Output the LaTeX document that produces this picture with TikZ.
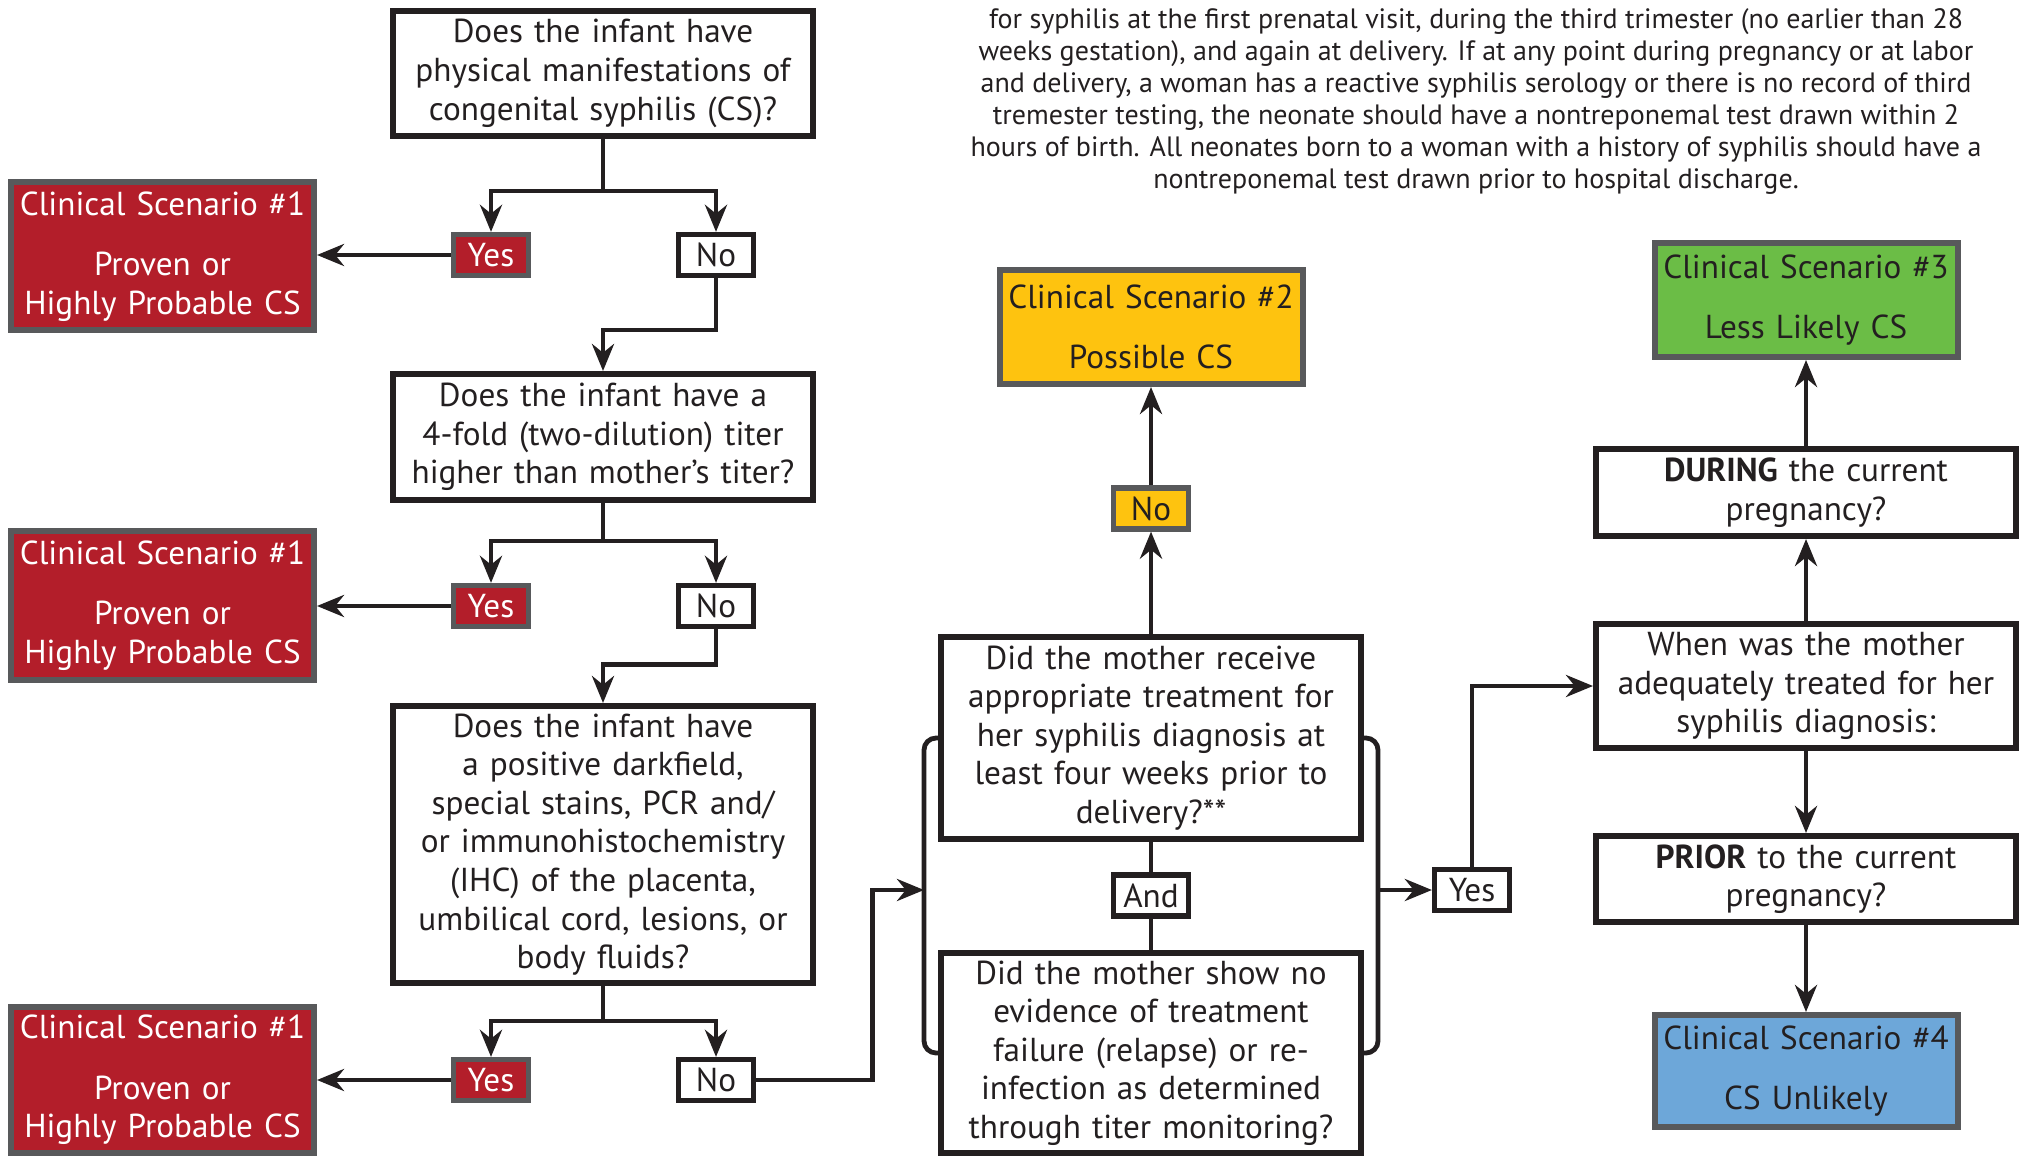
\documentclass[tikz,border=0pt]{standalone}
\usepackage{fontspec}
\setmainfont{PT Sans}
\usetikzlibrary{arrows.meta}

\definecolor{csred}{HTML}{B31E2A}
\definecolor{csyellow}{HTML}{FEC30F}
\definecolor{csgreen}{HTML}{6BBD46}
\definecolor{csblue}{HTML}{6DA7D9}
\definecolor{edgegray}{HTML}{58595B}
\definecolor{ink}{HTML}{231F20}

\begin{document}
\begin{tikzpicture}[x=0.5pt,y=-0.5pt,
	>={Stealth[length=13.5pt,width=11pt]},
	every node/.style={font=\fontsize{16.6}{19.3}\selectfont,text=ink},
	qbox/.style={draw=ink,line width=3pt,fill=white,align=center,inner sep=0pt,minimum width=210pt,text width=206pt},
	tag/.style={draw=ink,line width=2.6pt,fill=white,inner sep=0pt,minimum width=37.5pt,minimum height=20.5pt},
	redtag/.style={tag,draw=edgegray,fill=csred,text=white},
	csbox/.style={draw=edgegray,line width=3pt,align=center,inner sep=0pt,minimum width=151.5pt,text width=151pt},
	link/.style={draw=ink,line width=2.4pt}]
		\useasboundingbox (0,0) rectangle (2021,1159);
		
		% screening note
		\node[font=\fontsize{14}{16}\selectfont,align=center](note)at(1476,102) {for syphilis at the first prenatal visit, during the third trimester (no earlier than 28\\weeks gestation), and again at delivery. If at any point during pregnancy or at labor\\and delivery, a woman has a reactive syphilis serology or there is no record of third\\tremester testing, the neonate should have a nontreponemal test drawn within 2\\hours of birth. All neonates born to a woman with a history of syphilis should have a\\nontreponemal test drawn prior to hospital discharge.};
		
		% infant questions
		\node[qbox,minimum height=62.5pt](q1)at(603,73.5) {Does the infant have\\physical manifestations of\\congenital syphilis (CS)?};
		\node[qbox,minimum height=63pt](q2)at(603,437) {Does the infant have a\\4-fold (two-dilution) titer\\higher than mother’s titer?};
		\node[qbox,minimum height=138.5pt](q3)at(603,844.5) {Does the infant have\\a positive darkfield,\\special stains, PCR and/\\or immunohistochemistry\\(IHC) of the placenta,\\umbilical cord, lesions, or\\body fluids?};
		
		\node[redtag](y1)at(491,255) {Yes};
		\node[tag](n1)at(716,255) {No};
		\node[redtag](y2)at(491,606) {Yes};
		\node[tag](n2)at(716,606) {No};
		\node[redtag](y3)at(491,1080) {Yes};
		\node[tag](n3)at(716,1080) {No};
		
		\node[csbox,fill=csred,text=white,minimum height=74pt](cs1a)at(162.5,256.5) {Clinical Scenario \#1\\[11pt]Proven or\\Highly Probable CS};
		\node[csbox,fill=csred,text=white,minimum height=74pt](cs1b)at(162.5,605.5) {Clinical Scenario \#1\\[11pt]Proven or\\Highly Probable CS};
		\node[csbox,fill=csred,text=white,minimum height=73pt](cs1c)at(162.5,1080) {Clinical Scenario \#1\\[11pt]Proven or\\Highly Probable CS};
		
		% mother questions
		\node[qbox,minimum height=101pt](m1)at(1151,738) {Did the mother receive\\appropriate treatment for\\her syphilis diagnosis at\\least four weeks prior to\\delivery?**};
		\node[tag](and)at(1151,895.5) {And};
		\node[qbox,minimum height=100pt](m2)at(1151,1053) {Did the mother show no\\evidence of treatment\\failure (relapse) or re-\\infection as determined\\through titer monitoring?};
		\node[tag,draw=edgegray,fill=csyellow](n4)at(1151,508.5) {No};
		\node[csbox,fill=csyellow,minimum height=57pt](cs2)at(1151,327) {Clinical Scenario \#2\\[11pt]Possible CS};
		\node[tag](y4)at(1472,890) {Yes};
		\coordinate (bl) at (924,890);
		\coordinate (br) at (1379,890);
		
		% timing of treatment
		\node[qbox,minimum height=62pt](when)at(1806,686) {When was the mother\\adequately treated for her\\syphilis diagnosis:};
		\node[qbox,minimum height=43.5pt](during)at(1806,492.5) {\textbf{DURING} the current\\pregnancy?};
		\node[qbox,minimum height=43pt](prior)at(1806,879) {\textbf{PRIOR} to the current\\pregnancy?};
		\node[csbox,fill=csgreen,minimum height=57pt](cs3)at(1806,300) {Clinical Scenario \#3\\[11pt]Less Likely CS};
		\node[csbox,fill=csblue,minimum height=56pt](cs4)at(1806,1071) {Clinical Scenario \#4\\[11pt]CS Unlikely};
		
		\draw[link,->](q1.south) -- ++(0,52) -| (y1.north);
		\draw[link,->](q1.south) -- ++(0,52) -| (n1.north);
		\draw[link,->](n1.south) -- ++(0,52) -| (q2.north);
		\draw[link,->](q2.south) -- ++(0,38) -| (y2.north);
		\draw[link,->](q2.south) -- ++(0,38) -| (n2.north);
		\draw[link,->](n2.south) -- ++(0,35) -| (q3.north);
		\draw[link,->](q3.south) -- ++(0,35) -| (y3.north);
		\draw[link,->](q3.south) -- ++(0,35) -| (n3.north);
		
		\draw[link,->](y1.west) -- (y1.west -| cs1a.east);
		\draw[link,->](y2.west) -- (y2.west -| cs1b.east);
		\draw[link,->](y3.west) -- (y3.west -| cs1c.east);
		
		\draw[link,->](n3.east) -- ++(116,0) |- (bl);
		\draw[link,rounded corners=6pt](m1.west) -- ++(-14,0) |- (m2.west);
		\draw[link,rounded corners=6pt](m1.east) -- ++(14,0) |- (m2.east);
		\draw[link](m1.south) -- (and.north);
		\draw[link](and.south) -- (m2.north);
		\draw[link,->](m1.north) -- (n4.south);
		\draw[link,->](n4.north) -- (cs2.south);
		\draw[link,->](br) -- (y4.west);
		\draw[link,->](y4.north) |- (when.west);
		
		\draw[link,->](when.north) -- (during.south);
		\draw[link,->](during.north) -- (cs3.south);
		\draw[link,->](when.south) -- (prior.north);
		\draw[link,->](prior.south) -- (cs4.north);
	\end{tikzpicture}
\end{document}
